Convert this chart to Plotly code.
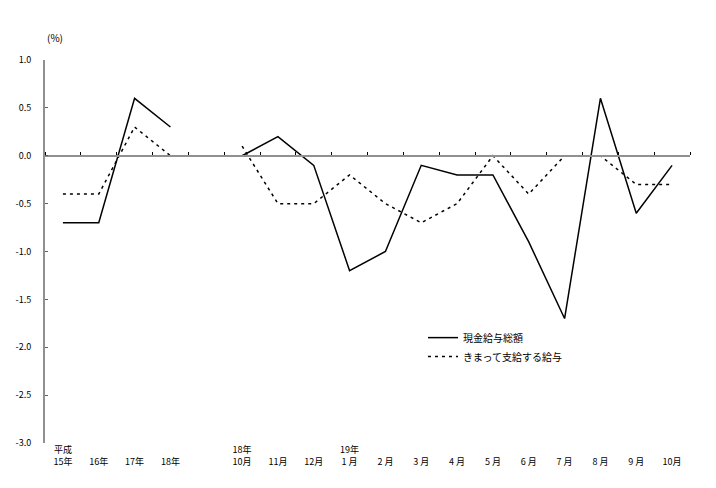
import plotly.graph_objects as go

categories = ["平成<br>15年", " <br>16年", " <br>17年", " <br>18年", "  ",
              "18年<br>10月", " <br>11月", " <br>12月", "19年<br>1 月", " <br>2 月",
              " <br>3 月", " <br>4 月", " <br>5 月", " <br>6 月", " <br>7 月",
              " <br>8 月", " <br>9 月", " <br>10月"]
total_pay = [-0.7, -0.7, 0.6, 0.3, None,
             0.0, 0.2, -0.1, -1.2, -1.0, -0.1, -0.2, -0.2, -0.9, -1.7, 0.6, -0.6, -0.1]
regular_pay = [-0.4, -0.4, 0.3, 0.0, None,
               0.1, -0.5, -0.5, -0.2, -0.5, -0.7, -0.5, 0.0, -0.4, 0.0, 0.0, -0.3, -0.3]
series_names = ["現金給与総額", "きまって支給する給与"]
y_ticks = [1.0, 0.5, 0.0, -0.5, -1.0, -1.5, -2.0, -2.5, -3.0]

FONT = "Noto Sans CJK JP"
n = len(categories)

fig = go.Figure()
fig.add_trace(go.Scatter(x=categories, y=total_pay, name=series_names[0], mode="lines",
                         line=dict(color="black", width=1.5), connectgaps=False))
fig.add_trace(go.Scatter(x=categories, y=regular_pay, name=series_names[1], mode="lines",
                         line=dict(color="black", width=1.5, dash="3px,4px"), connectgaps=False))
# invisible trace on overlay axis to carry the zero-line ticks
fig.add_trace(go.Scatter(x=categories, y=[0]*n, xaxis="x2", mode="lines",
                         line=dict(width=0), showlegend=False, hoverinfo="skip"))

fig.update_layout(
    width=700, height=472,
    margin=dict(l=37, r=18, t=52, b=37, autoexpand=False),
    paper_bgcolor="white", plot_bgcolor="white",
    font=dict(family=FONT, size=9, color="black"),
    showlegend=True,
    legend=dict(x=0.586, y=0.313, xanchor="left", yanchor="top",
                bgcolor="rgba(0,0,0,0)", font=dict(size=10, family=FONT),
                tracegroupgap=0, itemwidth=30),
    xaxis=dict(type="category", categoryorder="array", categoryarray=categories,
               range=[-0.5, n - 0.5], automargin=False,
               showline=False, showgrid=False, zeroline=False, ticks="",
               tickfont=dict(size=9, family=FONT), tickangle=0),
    xaxis2=dict(type="category", categoryorder="array", categoryarray=categories,
                range=[-0.5, n - 0.5], automargin=False,
                overlaying="x", anchor="free", position=0.75, side="top",
                showline=True, linecolor="#909090", linewidth=2,
                ticks="outside", ticklen=3, tickwidth=1, tickcolor="black",
                tickson="boundaries",
                showticklabels=False, showgrid=False, zeroline=False),
    yaxis=dict(range=[-3.0, 1.0], tickvals=y_ticks, ticktext=[f"{v:.1f}" for v in y_ticks],
               automargin=False,
               showline=True, linecolor="#909090", linewidth=2,
               ticks="inside", ticklen=3, tickcolor="#606060",
               showgrid=False, zeroline=False, tickfont=dict(size=9, family=FONT),
               ticklabelstandoff=10),
    annotations=[dict(text="(%)", x=0.0, y=1.06, xref="paper", yref="paper",
                      xanchor="left", yanchor="middle", showarrow=False,
                      font=dict(size=10, family=FONT))],
)

fig.write_html("out.html")
